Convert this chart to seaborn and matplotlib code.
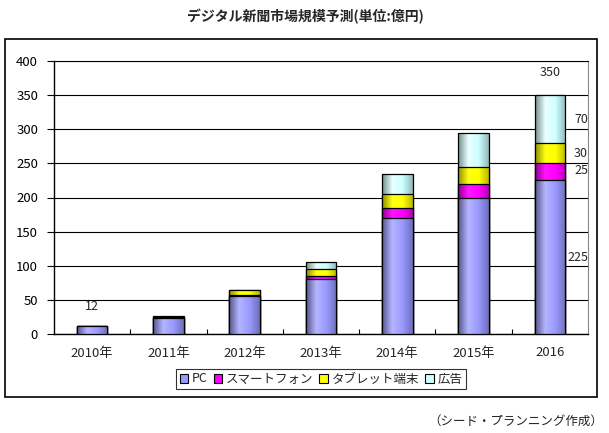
import numpy as np
import pandas as pd
import matplotlib
matplotlib.use("Agg")
import matplotlib.pyplot as plt
from matplotlib.colors import LinearSegmentedColormap, to_rgb
from matplotlib.patches import Rectangle, Patch
import seaborn as sns

years = ["2010年", "2011年", "2012年", "2013年", "2014年", "2015年", "2016"]
series = ["PC", "スマートフォン", "タブレット端末", "広告"]
pc = [12, 24, 55, 80, 170, 200, 225]
smartphone = [0, 1, 2, 5, 15, 20, 25]
tablet = [0, 0.5, 7, 10, 20, 25, 30]
ad = [0, 0.5, 1, 10, 30, 50, 70]
colors = ["#9999FF", "#FF00FF", "#FFFF00", "#CCFFFF"]

sns.set_theme(style="white")
plt.rcParams['font.family'] = ['Noto Sans CJK JP', 'DejaVu Sans']

df = pd.DataFrame({"year": years, "PC": pc, "スマートフォン": smartphone,
                   "タブレット端末": tablet, "広告": ad})
cum = df[series].cumsum(axis=1)

fig = plt.figure(figsize=(6.09, 4.33), dpi=100)
ax = fig.add_axes([54/609, 1-334/433, 534/609, 273/433])

def grad_cmap(c):
    r = np.array(to_rgb(c))
    dark = r * 0.55
    light = np.clip(r * 1.05 + 0.08, 0, 1)
    mid = r * 0.72
    return LinearSegmentedColormap.from_list("g", [dark, light, r, mid], N=256)

grad = np.linspace(0, 1, 256).reshape(1, -1)
nlayers = len(series)
for k, idx in enumerate(reversed(range(nlayers))):
    s = series[idx]
    sns.barplot(x=df["year"], y=cum[s], ax=ax, color=colors[idx], width=0.4,
                edgecolor="black", linewidth=0.9, saturation=1)
    bars = ax.patches[-len(years):]
    cmap = grad_cmap(colors[idx])
    for p in bars:
        x0, y0 = p.get_x(), p.get_y()
        w, h = p.get_width(), p.get_height()
        p.set_facecolor("none")
        p.set_zorder(3 + 2 * k)
        im = ax.imshow(grad, extent=[x0, x0 + w, y0, y0 + h], aspect="auto",
                       cmap=cmap, zorder=2 + 2 * k, interpolation="bilinear")
        im.set_clip_path(p)

ax.set_xlim(-0.5, 6.5)
ax.set_ylim(0, 400)
ax.set_yticks(np.arange(0, 401, 50))
ax.set_xlabel("")
ax.set_ylabel("")
ax.grid(axis="y", color="black", linewidth=0.8)
ax.set_axisbelow(True)
for sp in ["left", "bottom"]:
    ax.spines[sp].set_color("black")
    ax.spines[sp].set_linewidth(1.0)
ax.spines["right"].set_color("#888888")
ax.spines["right"].set_linewidth(0.8)
ax.spines["top"].set_color("black")
ax.spines["top"].set_linewidth(0.8)
ax.tick_params(axis="y", direction="out", length=5, width=0.8, pad=6.5,
               labelsize=9.5, colors="black", left=True)
ax.tick_params(axis="x", which="major", length=0, pad=9, labelsize=9.5)
ax.set_xticks(np.arange(0.5, 6.5, 1), minor=True)
ax.tick_params(axis="x", which="minor", direction="in", length=3.5, width=0.8,
               bottom=True, color="black")

# data labels
ax.text(0, 40, "12", ha="center", va="center", fontsize=9)
ax.text(6, 383, "350", ha="center", va="center", fontsize=9)
mids = [pc[6] / 2, pc[6] + smartphone[6] / 2 + 2,
        pc[6] + smartphone[6] + tablet[6] / 2, cum["広告"][6] - ad[6] / 2]
vals = [pc[6], smartphone[6], tablet[6], ad[6]]
for m, v in zip(mids, vals):
    ax.text(6.5, m, f"{v}", ha="right", va="center", fontsize=9, clip_on=False)

handles = [Patch(facecolor=c, edgecolor="black", linewidth=0.8) for c in colors]
leg = fig.legend(handles, series, loc="center", bbox_to_anchor=(321/609, 1-379/433),
                 ncol=4, frameon=True, fontsize=9, handlelength=0.7, handleheight=0.7,
                 handletextpad=0.3, columnspacing=0.45, borderpad=0.3, borderaxespad=0,
                 fancybox=False)
leg.get_frame().set_edgecolor("black")
leg.get_frame().set_linewidth(0.8)

fig.text(305/609, 1-17/433, "デジタル新聞市場規模予測(単位:億円)", ha="center",
         va="center", fontsize=10, fontweight="bold")
fig.text(603/609, 1-421/433, "（シード・プランニング作成）", ha="right",
         va="center", fontsize=9)

fig.patches.append(Rectangle((5/609, 1-397/433), 592/609, 358/433,
                             transform=fig.transFigure, fill=False,
                             edgecolor="black", linewidth=1.2))

fig.savefig("out.png", dpi=100)
